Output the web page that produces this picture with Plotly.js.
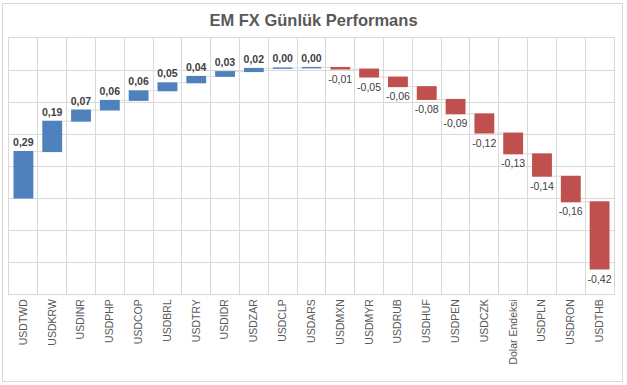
<!DOCTYPE html>
<html><head><meta charset="utf-8">
<script src="https://cdn.plot.ly/plotly-3.0.1.min.js"></script>
<style>html,body{margin:0;padding:0;background:#fff}#c{width:627px;height:385px;position:relative}
#frame{position:absolute;left:2px;top:3px;width:619px;height:377px;border:1px solid #d9d9d9;pointer-events:none}</style>
</head><body><div style="position:relative"><div id="c"></div><div id="frame"></div></div>
<script>
const categories = ["USDTWD","USDKRW","USDINR","USDPHP","USDCOP","USDBRL","USDTRY","USDIDR","USDZAR","USDCLP","USDARS","USDMXN","USDMYR","USDRUB","USDHUF","USDPEN","USDCZK","Dolar Endeksi","USDPLN","USDRON","USDTHB"];
const changes = [0.29,0.19,0.07,0.06,0.06,0.05,0.04,0.03,0.02,0.003,0.003,-0.01,-0.05,-0.06,-0.08,-0.09,-0.12,-0.13,-0.14,-0.16,-0.42];
const labels = changes.map(v => {
  const s = v.toFixed(2).replace('.', ',');
  return v >= 0 ? '<b>' + s + '</b>' : s;
});

const trace = {
  type: 'waterfall',
  x: categories,
  y: changes,
  measure: changes.map(() => 'relative'),
  text: labels,
  textposition: 'outside',
  constraintext: 'none',
  textfont: {family: 'Liberation Sans, Arial, sans-serif', size: 10.5, color: '#404040'},
  increasing: {marker: {color: '#4F81BD'}},
  decreasing: {marker: {color: '#C0504D'}},
  connector: {mode: 'between', line: {color: '#d9d9d9', width: 1}},
  cliponaxis: false,
  hoverinfo: 'none'
};

const layout = {
  width: 627, height: 385,
  margin: {l: 9, r: 13, t: 38, b: 91},
  paper_bgcolor: '#ffffff', plot_bgcolor: '#ffffff',
  separators: ',.',
  showlegend: false,
  waterfallgap: 0.31,
  title: {text: '<b>EM FX Günlük Performans</b>', x: 0.5, xanchor: 'center', y: 0.948, yanchor: 'middle',
          font: {family: 'Liberation Sans, Arial, sans-serif', size: 16.5, color: '#595959'}},
  xaxis: {type: 'category', tickson: 'boundaries', showgrid: true, gridcolor: '#d9d9d9', gridwidth: 1,
          tickangle: -90, ticks: '', showline: true, linecolor: '#d9d9d9', mirror: true,
          tickfont: {family: 'Liberation Sans, Arial, sans-serif', size: 10.5, color: '#595959'}},
  yaxis: {range: [-0.6, 1.0], dtick: 0.2, tick0: 0, showticklabels: false, showgrid: true,
          gridcolor: '#d9d9d9', gridwidth: 1, zeroline: true, zerolinecolor: '#d9d9d9', zerolinewidth: 1,
          showline: true, linecolor: '#d9d9d9', mirror: true, ticks: ''}
};

Plotly.newPlot('c', [trace], layout, {displayModeBar: false, staticPlot: true});
</script></body></html>
